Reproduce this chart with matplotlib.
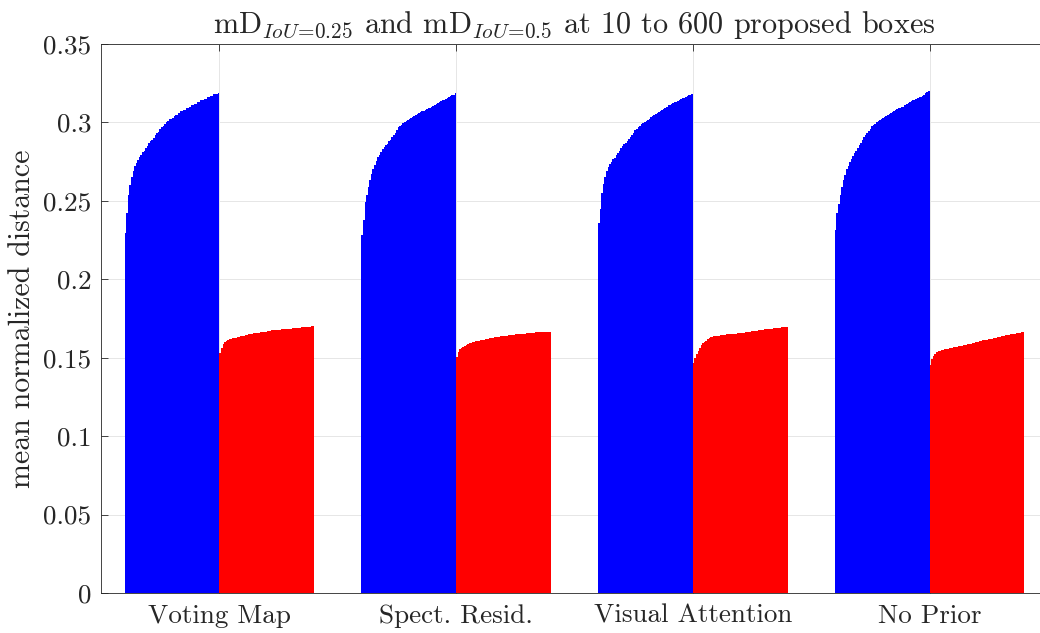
import numpy as np
import matplotlib
matplotlib.use("Agg")
import matplotlib.pyplot as plt

plt.rcParams["font.family"] = ["cmr10", "DejaVu Serif"]
plt.rcParams["mathtext.fontset"] = "cm"
plt.rcParams["axes.unicode_minus"] = False

methods = ["Voting Map", "Spect. Resid.", "Visual Attention", "No Prior"]
proposals = list(range(10, 601, 10))

# mean normalized distance at IoU = 0.25 (blue), one value per proposal count
md25_voting = [0.2295, 0.242, 0.254, 0.260, 0.265, 0.269, 0.272, 0.274, 0.276, 0.278,
               0.279, 0.281, 0.282, 0.284, 0.285, 0.287, 0.288, 0.289, 0.290, 0.292,
               0.293, 0.294, 0.296, 0.297, 0.298, 0.299, 0.300, 0.301, 0.302, 0.302,
               0.303, 0.304, 0.305, 0.305, 0.306, 0.307, 0.307, 0.308, 0.308, 0.309,
               0.309, 0.310, 0.311, 0.311, 0.312, 0.312, 0.313, 0.313, 0.314, 0.314,
               0.315, 0.315, 0.316, 0.316, 0.317, 0.317, 0.318, 0.318, 0.318, 0.319]
md25_spectral = [0.2285, 0.238, 0.249, 0.254, 0.259, 0.2635, 0.267, 0.270, 0.273, 0.2756,
                 0.2778, 0.2795, 0.281, 0.283, 0.2845, 0.2855, 0.2865, 0.288, 0.289, 0.2905,
                 0.292, 0.293, 0.295, 0.2968, 0.298, 0.2985, 0.2995, 0.300, 0.301, 0.3015,
                 0.302, 0.303, 0.3035, 0.304, 0.3048, 0.3055, 0.306, 0.3066, 0.307, 0.3075,
                 0.308, 0.3086, 0.309, 0.3095, 0.310, 0.3105, 0.311, 0.3117, 0.3123, 0.3128,
                 0.3134, 0.314, 0.3146, 0.315, 0.3157, 0.3162, 0.3168, 0.3173, 0.3178, 0.3185]
md25_attention = [0.236, 0.2445, 0.255, 0.2605, 0.265, 0.269, 0.2715, 0.2735, 0.275, 0.2765,
                  0.2775, 0.279, 0.2805, 0.282, 0.2835, 0.2848, 0.286, 0.287, 0.288, 0.2895,
                  0.291, 0.292, 0.2935, 0.295, 0.296, 0.297, 0.298, 0.299, 0.2995, 0.3005,
                  0.301, 0.3018, 0.3025, 0.3032, 0.304, 0.3047, 0.3054, 0.306, 0.3068, 0.3075,
                  0.308, 0.3088, 0.3095, 0.310, 0.3108, 0.3112, 0.3118, 0.3123, 0.3128, 0.3133,
                  0.3138, 0.3143, 0.3148, 0.3153, 0.3158, 0.3163, 0.3168, 0.3172, 0.3176, 0.318]
md25_noprior = [0.2314, 0.242, 0.248, 0.2535, 0.259, 0.263, 0.2665, 0.270, 0.2725, 0.2746,
                0.2768, 0.2786, 0.2805, 0.282, 0.2836, 0.2855, 0.2872, 0.289, 0.2905, 0.292,
                0.2935, 0.2948, 0.296, 0.2975, 0.2985, 0.2993, 0.300, 0.3008, 0.3015, 0.3022,
                0.303, 0.3036, 0.3043, 0.305, 0.3056, 0.3062, 0.3068, 0.3075, 0.3082, 0.3087,
                0.309, 0.3094, 0.3097, 0.310, 0.3108, 0.3116, 0.3123, 0.3128, 0.3134, 0.314,
                0.3145, 0.315, 0.3155, 0.316, 0.3165, 0.317, 0.3177, 0.3185, 0.3192, 0.320]

# mean normalized distance at IoU = 0.5 (red)
md50_voting = [0.1528, 0.1565, 0.1585, 0.1600, 0.1608, 0.1613, 0.1617, 0.162, 0.1623, 0.1626,
               0.1628, 0.1631, 0.1633, 0.1636, 0.1638, 0.1641, 0.1643, 0.1646, 0.1648, 0.1651,
               0.1653, 0.1655, 0.1657, 0.1658, 0.1659, 0.166, 0.1662, 0.1663, 0.1665, 0.1666,
               0.1668, 0.167, 0.1673, 0.1676, 0.1677, 0.1678, 0.1678, 0.1679, 0.1679, 0.168,
               0.168, 0.1681, 0.1682, 0.1683, 0.1685, 0.1686, 0.1687, 0.1688, 0.1689, 0.169,
               0.1691, 0.1692, 0.1693, 0.1694, 0.1695, 0.1696, 0.1697, 0.1698, 0.1699, 0.170]
md50_spectral = [0.1507, 0.1535, 0.1555, 0.1563, 0.157, 0.1577, 0.1582, 0.1587, 0.1591, 0.1595,
                 0.1598, 0.1601, 0.1604, 0.1607, 0.1609, 0.1612, 0.1614, 0.1616, 0.1618, 0.162,
                 0.1622, 0.1624, 0.1626, 0.1628, 0.163, 0.1632, 0.1633, 0.1634, 0.1636, 0.1637,
                 0.1638, 0.164, 0.1641, 0.1643, 0.1644, 0.1646, 0.1647, 0.1648, 0.1649, 0.165,
                 0.1651, 0.1652, 0.1653, 0.1654, 0.1655, 0.1656, 0.1657, 0.1658, 0.1659, 0.166,
                 0.1661, 0.1662, 0.1663, 0.1663, 0.1664, 0.1664, 0.1665, 0.1665, 0.1666, 0.1666]
md50_attention = [0.1465, 0.150, 0.1525, 0.1545, 0.1563, 0.1578, 0.1592, 0.1601, 0.1609, 0.1617,
                  0.1624, 0.1629, 0.1634, 0.1636, 0.1638, 0.164, 0.1641, 0.1643, 0.1644, 0.1646,
                  0.1647, 0.1648, 0.1649, 0.165, 0.1651, 0.1652, 0.1653, 0.1654, 0.1656, 0.1657,
                  0.1658, 0.1659, 0.166, 0.1662, 0.1663, 0.1665, 0.1666, 0.1668, 0.1669, 0.1671,
                  0.1673, 0.1674, 0.1676, 0.1677, 0.1679, 0.168, 0.1681, 0.1682, 0.1684, 0.1685,
                  0.1686, 0.1687, 0.1689, 0.169, 0.1691, 0.1692, 0.1694, 0.1695, 0.1697, 0.1698]
md50_noprior = [0.1455, 0.149, 0.151, 0.1525, 0.1535, 0.154, 0.1544, 0.1548, 0.155, 0.1553,
                0.1556, 0.1558, 0.156, 0.1562, 0.1565, 0.1567, 0.1569, 0.1571, 0.1573, 0.1575,
                0.1577, 0.1579, 0.1581, 0.1583, 0.1585, 0.1588, 0.159, 0.1593, 0.1596, 0.1599,
                0.1602, 0.1604, 0.1607, 0.161, 0.1612, 0.1614, 0.1616, 0.1618, 0.162, 0.1622,
                0.1624, 0.1626, 0.1628, 0.163, 0.1633, 0.1636, 0.1638, 0.164, 0.1642, 0.1644,
                0.1646, 0.1648, 0.165, 0.1652, 0.1654, 0.1656, 0.1658, 0.166, 0.1662, 0.1664]

yticks = [0, 0.05, 0.1, 0.15, 0.2, 0.25, 0.3, 0.35]
ytick_labels = ["0", "0.05", "0.1", "0.15", "0.2", "0.25", "0.3", "0.35"]

md25 = [md25_voting, md25_spectral, md25_attention, md25_noprior]
md50 = [md50_voting, md50_spectral, md50_attention, md50_noprior]

fig = plt.figure(figsize=(10.4, 6.33), dpi=100)
ax = fig.add_axes([101 / 1040, 40 / 633, 947 / 1040, 549 / 633])

n_per = len(proposals)
n_series = 2 * n_per
group_w = 0.8
bar_w = group_w / n_series
for g in range(len(methods)):
    heights = list(md25[g]) + list(md50[g])
    xs = (g + 1) - group_w / 2 + (np.arange(n_series) + 0.5) * bar_w
    colors = ["#0000ff"] * n_per + ["#ff0000"] * n_per
    ax.bar(xs, heights, width=bar_w * 1.02, color=colors, linewidth=0, zorder=2)

ax.set_xlim(0.5, 4.5)
ax.set_ylim(0, 0.35)
ax.set_xticks(range(1, len(methods) + 1))
ax.set_xticklabels(methods, fontsize=19.5)
ax.set_yticks(yticks)
ax.set_yticklabels(ytick_labels, fontsize=19.5)

ax.set_axisbelow(True)
ax.grid(True, color="#e6e6e6", linewidth=0.7, zorder=0)

for side in ["left", "top", "bottom", "right"]:
    ax.spines[side].set_color("#262626")
    ax.spines[side].set_linewidth(0.6)
ax.tick_params(axis="both", direction="in", length=5, width=0.6, color="#262626",
               labelcolor="#262626", top=True, right=True)
ax.tick_params(axis="y", pad=7)
ax.tick_params(axis="x", pad=8)

ax.set_ylabel("mean normalized distance", fontsize=21.5, color="#262626", labelpad=5)
ax.set_title(r"mD$_{IoU\!=\!0.25}$ and mD$_{IoU\!=\!0.5}$ at 10 to 600 proposed boxes",
             fontsize=21.8, color="#262626", pad=8)

fig.savefig("out.png", dpi=100)
